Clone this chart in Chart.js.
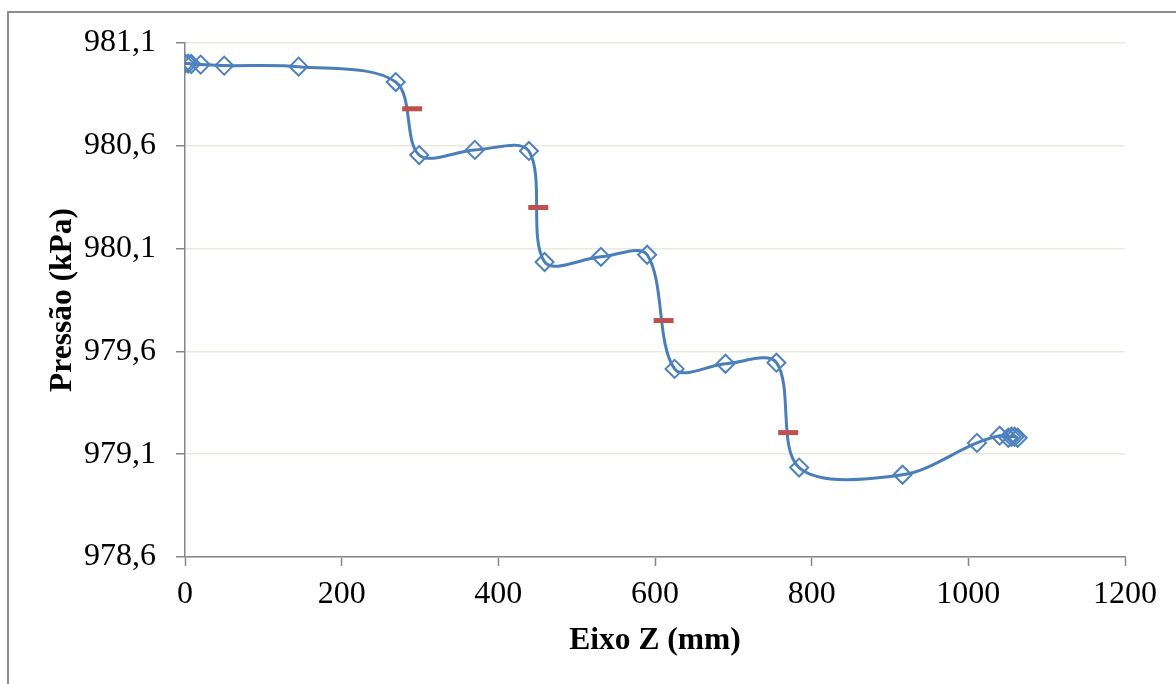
<!DOCTYPE html>
<html>
<head>
<meta charset="utf-8">
<script src="https://cdn.jsdelivr.net/npm/chart.js@4/dist/chart.umd.min.js"></script>
<style>
  html, body { margin: 0; padding: 0; background: #fff; }
  #chart { display: block; }
</style>
</head>
<body>
<canvas id="chart" width="1176" height="684"></canvas>
<script>
// measured points (Eixo Z in mm, pressure in kPa)
const zMeasured = [0, 4, 8, 20, 50, 145, 269, 299, 370, 439, 459, 531, 590, 625, 690, 755, 784, 916, 1011, 1040, 1051, 1055, 1059, 1063];
const pMeasured = [981.0, 981.0, 980.998, 980.995, 980.99, 980.985, 980.91, 980.555, 980.58, 980.575, 980.035, 980.06, 980.07, 979.515, 979.54, 979.545, 979.035, 979.0, 979.155, 979.19, 979.18, 979.185, 979.185, 979.18];

// red dash markers
const zMarks = [290, 451, 611, 770];
const pMarks = [980.78, 980.30, 979.75, 979.205];

const xTicks = [0, 200, 400, 600, 800, 1000, 1200];
const yTicks = [978.6, 979.1, 979.6, 980.1, 980.6, 981.1];

const serif = "'Liberation Serif', 'Times New Roman', serif";
const axisGray = '#868686';
const gridCream = '#ebeadf';

function toPoints(xs, ys) {
    return xs.map((x, i) => ({ x: x, y: ys[i] }));
}

// outer frame of the picture (left and top edges only are visible)
const framePlugin = {
    id: 'frame',
    beforeDraw(chart) {
        const ctx = chart.ctx;
        ctx.save();
        ctx.strokeStyle = '#8c8c8c';
        ctx.lineWidth = 2;
        ctx.beginPath();
        ctx.moveTo(8, chart.height);
        ctx.lineTo(8, 12);
        ctx.lineTo(chart.width, 12);
        ctx.stroke();
        ctx.restore();
    }
};

new Chart(document.getElementById('chart'), {
    type: 'scatter',
    data: {
        datasets: [
            {
                label: 'Pressão',
                data: toPoints(zMeasured, pMeasured),
                showLine: true,
                tension: 0.33,
                borderColor: '#4a7ebb',
                borderWidth: 3,
                pointStyle: 'rectRot',
                pointRadius: 9,
                pointBorderWidth: 2,
                pointBorderColor: '#4f81bd',
                pointBackgroundColor: 'rgba(0,0,0,0)',
                order: 1
            },
            {
                label: 'Marcas',
                data: toPoints(zMarks, pMarks),
                showLine: false,
                pointStyle: 'line',
                pointRadius: 10,
                pointBorderWidth: 5,
                pointBorderColor: '#c0504d',
                pointBackgroundColor: '#c0504d',
                order: 0
            }
        ]
    },
    options: {
        responsive: false,
        animation: false,
        layout: {
            padding: { left: 0, top: 43, right: 51, bottom: 0 }
        },
        plugins: {
            legend: { display: false },
            tooltip: { enabled: false }
        },
        scales: {
            x: {
                type: 'linear',
                min: 0,
                max: 1200,
                afterBuildTicks: (scale) => { scale.ticks = xTicks.map(v => ({ value: v })); },
                afterFit: (scale) => { scale.height = 127; },
                grid: {
                    drawOnChartArea: false,
                    drawTicks: true,
                    tickLength: 9,
                    tickColor: axisGray,
                    tickWidth: 1.5
                },
                border: { color: axisGray, width: 1.5 },
                ticks: {
                    padding: 9,
                    color: '#000',
                    maxRotation: 0,
                    font: { family: serif, size: 32 },
                    callback: (v) => String(v)
                },
                title: {
                    display: true,
                    text: 'Eixo Z (mm)',
                    color: '#000',
                    font: { family: serif, size: 31.5, weight: 'bold' },
                    padding: { top: 0, bottom: 24 }
                }
            },
            y: {
                type: 'linear',
                min: 978.6,
                max: 981.1,
                afterBuildTicks: (scale) => { scale.ticks = yTicks.map(v => ({ value: v })); },
                afterFit: (scale) => { scale.width = 185; },
                grid: {
                    color: gridCream,
                    lineWidth: 1.5,
                    drawTicks: true,
                    tickLength: 9,
                    tickColor: axisGray,
                    tickWidth: 1.5
                },
                border: { color: axisGray, width: 1.5 },
                ticks: {
                    padding: 20,
                    color: '#000',
                    font: { family: serif, size: 32 },
                    callback: (v) => v.toFixed(1).replace('.', ',')
                },
                title: {
                    display: true,
                    text: 'Pressão (kPa)',
                    color: '#000',
                    font: { family: serif, size: 31.5, weight: 'bold' },
                    padding: { top: 44, bottom: 0 }
                }
            }
        }
    },
    plugins: [framePlugin]
});
</script>
</body>
</html>
